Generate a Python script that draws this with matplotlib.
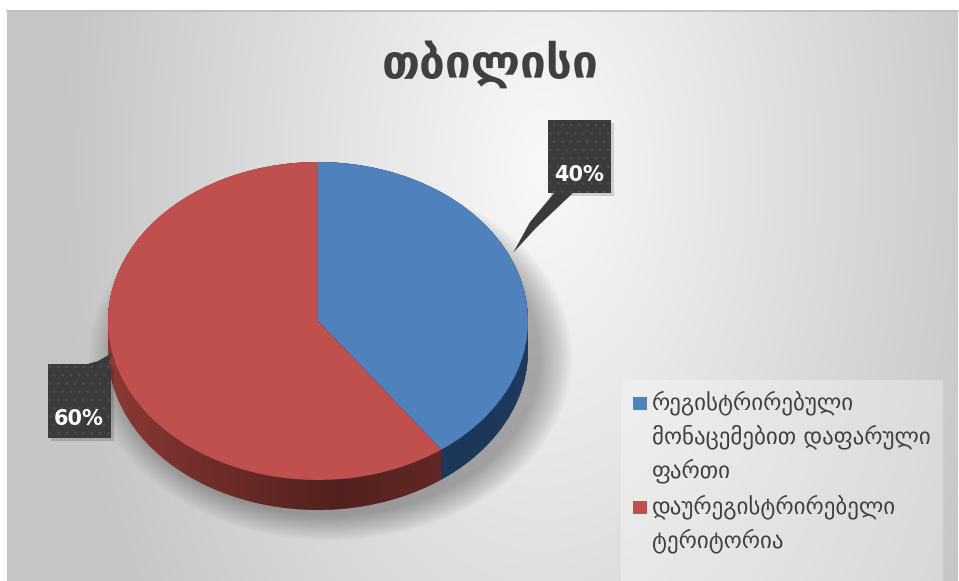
import numpy as np
import matplotlib
matplotlib.use("Agg")
import matplotlib.pyplot as plt
from matplotlib.patches import Rectangle, Polygon, Ellipse, PathPatch
from matplotlib.path import Path

plt.rcParams["hatch.linewidth"] = 0.6

# ---- data ----
title = "თბილისი"
categories = ["რეგისტრირებული\nმონაცემებით დაფარული\nფართი",
              "დაურეგისტრირებელი\nტერიტორია"]
values = [40, 60]
top_colors = ["#4f81bd", "#c0504d"]
side_colors = ["#2b5283", "#943c38"]

W, H = 959, 581
fig = plt.figure(figsize=(W / 100, H / 100), dpi=100)
fig.patch.set_facecolor("white")

# ---- background overlay (pixel coordinates) ----
bg = fig.add_axes([0, 0, 1, 1], zorder=0)
bg.set_xlim(0, W)
bg.set_ylim(H, 0)
bg.axis("off")
yy, xx = np.mgrid[0:H, 0:W]
r = np.sqrt(((xx - 540) / 460.0) ** 2 + ((yy - 160) / 800.0) ** 2)
v = 0.975 - 0.19 * np.clip(r, 0, 1.05)
img = np.dstack([v, v, v])
bg.imshow(img, extent=(7, 958, H, 10), aspect="auto", zorder=0)
bg.plot([7, 958], [10.5, 10.5], color="#bdbdbd", lw=1.2, zorder=1)

# ---- pie axes ----
left, right, top, bottom = 108, 528, 162, 510
rad_px_y = 159.0
thick = (bottom - top - 2 * rad_px_y) / rad_px_y
pax = fig.add_axes([left / W, (H - bottom) / H, (right - left) / W, (bottom - top) / H], zorder=2)
pax.patch.set_alpha(0)

# soft shadow
for i in range(16):
    s = 1.0 + 0.01 * i
    e = Ellipse((0.06, -thick - 0.04), 2 * s, 2 * s, facecolor="black",
                alpha=0.02, lw=0, zorder=0)
    e.set_clip_on(False)
    pax.add_patch(e)

for dy in np.linspace(-thick, 0, 50):
    pax.pie(values, colors=side_colors, startangle=90, counterclock=False,
            center=(0, dy), radius=1.0, wedgeprops=dict(linewidth=0))

# darkening gradient over the side wall
t = np.linspace(0, np.pi, 100)
verts = ([(-1, 0), (-1, -thick)] +
         [(-np.cos(a), -thick - np.sin(a)) for a in t] +
         [(1, 0)] + [(np.cos(a), np.sin(a)) for a in t] + [(-1, 0)])
side_path = Path(verts, closed=True)
clip = PathPatch(side_path, transform=pax.transData, facecolor="none", lw=0)
pax.add_patch(clip)
gx = np.linspace(-1, 1, 300)
alpha = np.interp(gx, [-1, -0.6, 0.1, 0.55, 1], [0.05, 0.22, 0.45, 0.35, 0.3])
grad = np.zeros((1, gx.size, 4))
grad[..., 3] = alpha
im = pax.imshow(grad, extent=(-1, 1, -1 - thick, 1), aspect="auto", zorder=3,
                interpolation="bilinear")
im.set_clip_path(clip)

wedges, _ = pax.pie(values, colors=top_colors, startangle=90, counterclock=False,
                    center=(0, 0), radius=1.0, wedgeprops=dict(linewidth=0, zorder=4))
pax.set_aspect("auto")
pax.set_xlim(-1, 1)
pax.set_ylim(-1 - thick, 1)
pax.axis("off")

# ---- overlay for text / labels ----
ov = fig.add_axes([0, 0, 1, 1], zorder=5)
ov.set_xlim(0, W)
ov.set_ylim(H, 0)
ov.axis("off")
ov.patch.set_alpha(0)

ov.text(490, 78, title, ha="center", va="baseline", fontsize=33, fontweight="bold",
        color="#404040", family="DejaVu Sans")

def label_box(x0, y0, w, h, txt, tx, ty, pointer):
    ov.add_patch(Polygon(pointer, closed=True, facecolor="#3a3a3a", edgecolor="none", zorder=6))
    ov.add_patch(Rectangle((x0 + 3, y0 + 3), w, h, facecolor="black", alpha=0.15, lw=0, zorder=5))
    ov.add_patch(Rectangle((x0, y0), w, h, facecolor="#3b3b3b", edgecolor="#4f4f4f",
                           hatch="..", lw=0, zorder=7))
    ov.text(tx, ty, txt, ha="center", va="center", color="white", fontsize=15,
            fontweight="bold", zorder=8)

label_box(548, 120, 63, 73, f"{values[0]}%", 579, 175,
          [(555, 192), (574, 192), (536, 228), (513, 253), (530, 222)])
label_box(48, 364, 63, 74, f"{values[1]}%", 79, 419,
          [(84, 365), (98, 361), (112, 353), (108, 366)])

# ---- legend ----
ov.add_patch(Rectangle((621, 380), 322, 210, facecolor="white", alpha=0.3, lw=0, zorder=4))
leg_base = [409, 513]
for i, (lab, col) in enumerate(zip(categories, top_colors)):
    y = leg_base[i]
    ov.add_patch(Rectangle((633, y - 12), 14, 13, facecolor=col, lw=0, zorder=6))
    for j, line in enumerate(lab.split("\n")):
        ov.text(652, y + j * 34, line, ha="left", va="baseline", fontsize=16.5,
                color="#404040", zorder=6)

fig.savefig("out.png", dpi=100)
